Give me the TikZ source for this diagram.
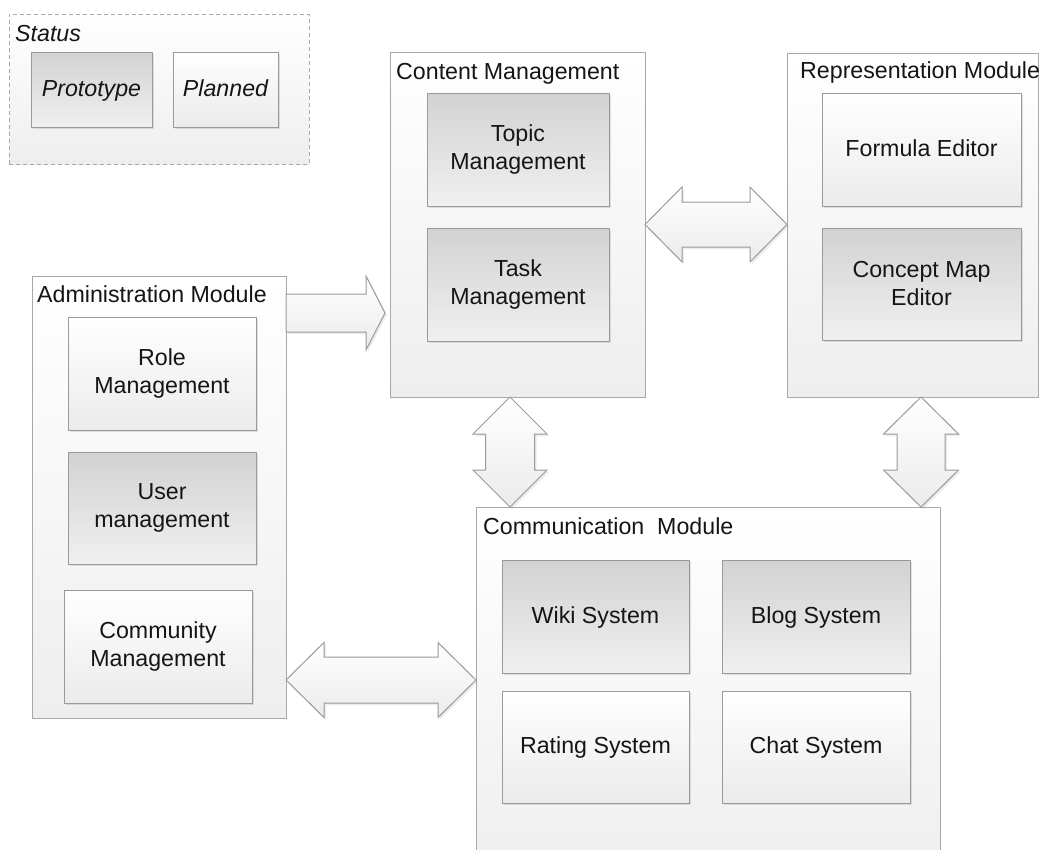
\documentclass[tikz,border=0pt]{standalone}
\usepackage{fontspec}
\setmainfont{Liberation Sans}
\usetikzlibrary{calc,shadows}
\definecolor{modline}{HTML}{A8A8A8}
\definecolor{boxline}{HTML}{9A9A9A}
\definecolor{protoTop}{HTML}{D2D2D2}
\definecolor{protoBot}{HTML}{F0F0F0}
\definecolor{planBot}{HTML}{EBEBEB}
\definecolor{modBot}{HTML}{EEEEEE}
\definecolor{txt}{HTML}{151515}
\tikzset{
  every node/.style={font=\fontsize{23.2}{28}\selectfont, text=txt},
  base/.style={rectangle, inner sep=0pt, outer sep=0pt, anchor=north west, line width=1pt},
  module/.style={base, draw=modline, top color=white, bottom color=modBot},
  protobox/.style={base, draw=boxline, top color=protoTop, bottom color=protoBot, align=center,
    drop shadow={shadow xshift=2pt, shadow yshift=-2pt, opacity=0.22}},
  planbox/.style={base, draw=boxline, top color=white, bottom color=planBot, align=center,
    drop shadow={shadow xshift=2pt, shadow yshift=-2pt, opacity=0.22}},
  oneline/.style={text height=17pt, text depth=4pt},
  statusbox/.style={base, draw=modline, dashed, dash pattern=on 4pt off 3pt, top color=white, bottom color=modBot},
  title/.style={anchor=base west, inner sep=0pt},
  blockarrow/.style={draw=boxline, line width=1pt, line join=miter, top color=white, bottom color=planBot,
    drop shadow={shadow xshift=2pt, shadow yshift=-2pt, opacity=0.15}}
}
% double horizontal block arrow between two tips (left, right)
\newcommand{\dblH}[5]{%
  \path[blockarrow] let \p1=(#1), \p2=(#2) in
  (\x1,\y1) -- (\x1+#5,\y1+#4) -- (\x1+#5,\y1+#3) -- (\x2-#5,\y1+#3) -- (\x2-#5,\y1+#4) -- (\x2,\y1)
  -- (\x2-#5,\y1-#4) -- (\x2-#5,\y1-#3) -- (\x1+#5,\y1-#3) -- (\x1+#5,\y1-#4) -- cycle;}
% double vertical block arrow between two tips (top, bottom)
\newcommand{\dblV}[5]{%
  \path[blockarrow] let \p1=(#1), \p2=(#2) in
  (\x1,\y1) -- (\x1+#4,\y1-#5) -- (\x1+#3,\y1-#5) -- (\x1+#3,\y2+#5) -- (\x1+#4,\y2+#5) -- (\x1,\y2)
  -- (\x1-#4,\y2+#5) -- (\x1-#3,\y2+#5) -- (\x1-#3,\y1-#5) -- (\x1-#4,\y1-#5) -- cycle;}
% single horizontal block arrow from start to tip
\newcommand{\sglH}[5]{%
  \path[blockarrow] let \p1=(#1), \p2=(#2) in
  (\x1,\y1+#3) -- (\x2-#5,\y1+#3) -- (\x2-#5,\y1+#4) -- (\x2,\y1) -- (\x2-#5,\y1-#4) -- (\x2-#5,\y1-#3)
  -- (\x1,\y1-#3) -- cycle;}
\begin{document}
\begin{tikzpicture}[x=1pt,y=-1pt]
\useasboundingbox[fill=white] (0,0) rectangle (1049,849);
\clip (0,0) rectangle (1049,849);

% Status legend
\node[statusbox, minimum width=300pt, minimum height=150pt] (status) at (9,14) {};
\node[title, font=\fontsize{23.2}{28}\selectfont\itshape] (statust) at (15,41) {Status};
\node[protobox, oneline, minimum width=121pt, minimum height=75pt, font=\fontsize{23.2}{28}\selectfont\itshape] (proto) at (31,52) {Prototype};
\node[planbox, oneline, minimum width=105pt, minimum height=75pt, font=\fontsize{23.2}{28}\selectfont\itshape] (plan) at (173,52) {Planned};

% Modules
\node[module, minimum width=255pt, minimum height=345pt] (cm) at (390,52) {};
\node[title] (cmt) at (396,79) {Content Management};
\node[protobox, minimum width=182pt, minimum height=113pt] (topic) at (427,93) {Topic\\Management};
\node[protobox, minimum width=182pt, minimum height=113pt] (task) at (427,228) {Task\\Management};

\node[module, minimum width=251pt, minimum height=344pt] (rm) at (787,53) {};
\node[title] (rmt) at (800,78) {Representation Module};
\node[planbox, oneline, minimum width=199pt, minimum height=113pt] (formula) at (822,93) {Formula Editor};
\node[protobox, minimum width=199pt, minimum height=112pt] (concept) at (822,228) {Concept Map\\Editor};

\node[module, minimum width=254pt, minimum height=442pt] (am) at (32,276) {};
\node[title] (amt) at (37,302) {Administration Module};
\node[planbox, minimum width=188pt, minimum height=113pt] (role) at (68,317) {Role\\Management};
\node[protobox, minimum width=188pt, minimum height=112pt] (user) at (68,452) {User\\management};
\node[planbox, minimum width=188pt, minimum height=113pt] (community) at (64,590) {Community\\Management};

\node[module, minimum width=464pt, minimum height=380pt] (comm) at (476,507) {};
\node[title] (commt) at (483,534) {Communication~~Module};
\node[protobox, oneline, minimum width=187pt, minimum height=113pt] (wiki) at (502,560) {Wiki System};
\node[protobox, oneline, minimum width=188pt, minimum height=113pt] (blog) at (722,560) {Blog System};
\node[planbox, oneline, minimum width=187pt, minimum height=112pt] (rating) at (502,691) {Rating System};
\node[planbox, oneline, minimum width=188pt, minimum height=112pt] (chat) at (722,691) {Chat System};

% Connector reference coordinates
\coordinate (a1tip) at (385,313);
\coordinate (x510) at (510,0);
\coordinate (x921) at (921,0);
\coordinate (y680) at (0,680);

% Block arrows
\sglH{am.east |- a1tip}{a1tip}{19pt}{37pt}{19pt}
\dblH{cm.east}{rm.west}{22.5pt}{37.5pt}{37pt}
\dblV{cm.south -| x510}{comm.north -| x510}{24.5pt}{37pt}{37pt}
\dblV{rm.south -| x921}{comm.north -| x921}{24pt}{37.5pt}{37pt}
\dblH{am.east |- y680}{comm.west |- y680}{23pt}{37.5pt}{38pt}
\end{tikzpicture}
\end{document}
